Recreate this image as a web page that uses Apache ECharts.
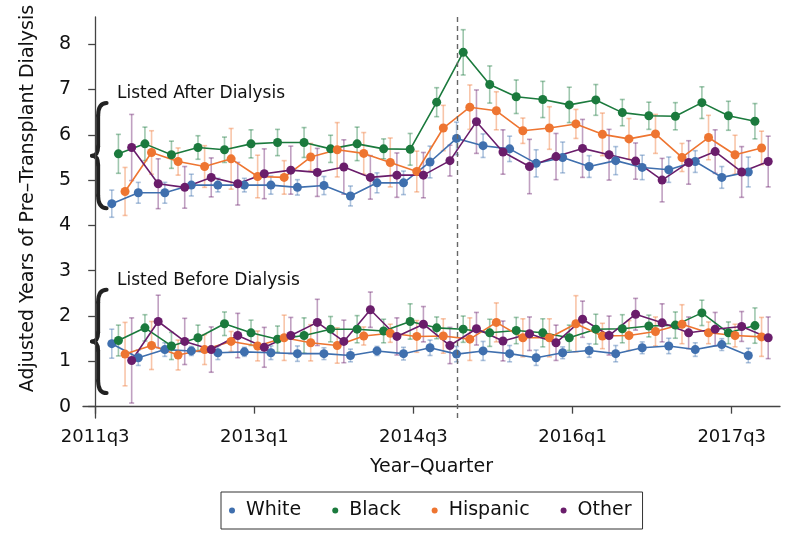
<!DOCTYPE html>
<html><head><meta charset="utf-8">
<script src="https://cdn.jsdelivr.net/npm/echarts@6/dist/echarts.min.js"></script>
<style>html,body{margin:0;padding:0;background:#fff}#c{width:800px;height:556px}</style>
</head><body><div id="c"></div>
<script>
// ---------- DATA ----------
const quarters = ['2011q4','2012q1','2012q2','2012q3','2012q4','2013q1','2013q2','2013q3','2013q4',
  '2014q1','2014q2','2014q3','2014q4','2015q1','2015q2','2015q3','2015q4','2016q1','2016q2','2016q3',
  '2016q4','2017q1','2017q2','2017q3','2017q4'];
const xTickLabels = ['2011q3','2013q1','2014q3','2016q1','2017q3'];
const yTickLabels = [0,1,2,3,4,5,6,7,8];
const races = ['White','Black','Hispanic','Other'];
const policyLineQuarter = 13.66; // quarters after 2011q3 (new allocation policy, Dec 2014)

// Listed after dialysis
const whiteAfter    = [4.48,4.72,4.72,4.89,4.89,4.89,4.89,4.84,4.88,4.65,4.94,4.94,5.40,5.92,5.76,5.69,5.37,5.50,5.30,5.43,5.28,5.23,5.41,5.06,5.18];
const blackAfter    = [5.58,5.80,5.56,5.72,5.67,5.80,5.83,5.83,5.69,5.80,5.69,5.68,6.72,7.82,7.11,6.84,6.78,6.66,6.77,6.49,6.42,6.41,6.71,6.42,6.30];
const hispanicAfter = [4.75,5.61,5.41,5.30,5.47,5.08,5.06,5.51,5.67,5.59,5.39,5.19,6.15,6.61,6.53,6.09,6.15,6.24,6.01,5.91,6.02,5.50,5.94,5.56,5.71];
const otherAfter    = [5.72,4.92,4.84,5.06,4.92,5.14,5.22,5.17,5.29,5.06,5.11,5.11,5.43,6.29,5.62,5.30,5.52,5.70,5.56,5.42,5.00,5.39,5.63,5.18,5.41];
// 95% CI half-widths, listed after dialysis
const whiteAfterErr    = [0.30,0.23,0.23,0.24,0.15,0.15,0.20,0.17,0.20,0.22,0.22,0.26,0.35,0.36,0.26,0.28,0.30,0.34,0.24,0.31,0.27,0.28,0.24,0.24,0.33];
const blackAfterErr    = [0.43,0.37,0.30,0.26,0.28,0.31,0.29,0.33,0.30,0.37,0.22,0.35,0.32,0.50,0.41,0.37,0.40,0.39,0.34,0.29,0.30,0.30,0.35,0.32,0.39];
const hispanicAfterErr = [0.53,0.48,0.30,0.46,0.67,0.47,0.37,0.30,0.60,0.46,0.54,0.45,0.50,0.49,0.42,0.28,0.47,0.32,0.47,0.45,0.43,0.31,0.49,0.43,0.37];
const otherAfterErr    = [0.73,0.55,0.46,0.43,0.47,0.55,0.53,0.53,0.60,0.48,0.49,0.50,0.34,0.70,0.49,0.60,0.51,0.64,0.56,0.40,0.48,0.48,0.48,0.56,0.56];

// Listed before dialysis
const whiteBefore    = [1.39,1.08,1.26,1.23,1.19,1.21,1.19,1.17,1.17,1.13,1.23,1.17,1.30,1.16,1.23,1.17,1.08,1.19,1.24,1.17,1.30,1.34,1.26,1.37,1.13];
const blackBefore    = [1.46,1.74,1.34,1.52,1.83,1.63,1.49,1.57,1.71,1.71,1.67,1.88,1.74,1.71,1.63,1.68,1.63,1.52,1.71,1.72,1.78,1.80,2.07,1.63,1.79];
const hispanicBefore = [1.16,1.35,1.14,1.26,1.44,1.34,1.52,1.41,1.35,1.56,1.62,1.55,1.56,1.49,1.86,1.52,1.52,1.83,1.56,1.57,1.66,1.82,1.63,1.57,1.54];
const otherBefore    = [1.02,1.88,1.44,1.26,1.57,1.31,1.57,1.86,1.44,2.14,1.55,1.82,1.35,1.72,1.45,1.61,1.41,1.93,1.57,2.04,1.85,1.63,1.71,1.77,1.52];
const whiteBeforeErr    = [0.32,0.17,0.15,0.10,0.15,0.10,0.15,0.17,0.13,0.14,0.10,0.14,0.17,0.17,0.21,0.18,0.17,0.13,0.15,0.18,0.13,0.17,0.15,0.13,0.16];
const blackBeforeErr    = [0.34,0.29,0.30,0.28,0.26,0.28,0.29,0.39,0.28,0.30,0.26,0.39,0.24,0.29,0.30,0.29,0.31,0.28,0.33,0.31,0.24,0.29,0.28,0.24,0.39];
const hispanicBeforeErr = [0.70,0.53,0.33,0.33,0.22,0.33,0.50,0.40,0.39,0.20,0.20,0.35,0.38,0.47,0.43,0.42,0.42,0.62,0.28,0.33,0.32,0.43,0.24,0.25,0.43];
const otherBeforeErr    = [0.94,0.58,0.51,0.50,0.49,0.44,0.40,0.51,0.47,0.39,0.41,0.39,0.40,0.36,0.44,0.37,0.39,0.40,0.43,0.35,0.42,0.35,0.37,0.33,0.46];

const groupLabels = ['Listed After Dialysis','Listed Before Dialysis'];

// ---------- BUILD ----------
const colors = {White:'#3f6fae', Black:'#1b7a3d', Hispanic:'#ee7531', Other:'#6a1d6b'};
const FONT = 'DejaVu Sans';
const qIndex = s => (parseInt(s.slice(0,4)) - 2011) * 4 + (parseInt(s.slice(5)) - 3);
const dodge = {White:-0.375, Black:-0.125, Hispanic:0.125, Other:0.375};
const seriesData = {
  White:[whiteAfter, whiteAfterErr, whiteBefore, whiteBeforeErr],
  Black:[blackAfter, blackAfterErr, blackBefore, blackBeforeErr],
  Hispanic:[hispanicAfter, hispanicAfterErr, hispanicBefore, hispanicBeforeErr],
  Other:[otherAfter, otherAfterErr, otherBefore, otherBeforeErr]
};

function errRenderer(color){
  return function(params, api){
    const x = api.value(0), lo = api.value(1), hi = api.value(2);
    const a = api.coord([x, hi]), b = api.coord([x, lo]);
    const cap = 2.5;
    const st = {stroke: color, lineWidth: 1.6, opacity: 0.42};
    return {type:'group', children:[
      {type:'line', shape:{x1:a[0],y1:a[1],x2:b[0],y2:b[1]}, style:st},
      {type:'line', shape:{x1:a[0]-cap,y1:a[1],x2:a[0]+cap,y2:a[1]}, style:st},
      {type:'line', shape:{x1:b[0]-cap,y1:b[1],x2:b[0]+cap,y2:b[1]}, style:st}
    ]};
  };
}

const series = [];
races.forEach(r => {
  const [aV, aE, bV, bE] = seriesData[r];
  [[aV,aE],[bV,bE]].forEach(([vals, errs]) => {
    const pts = quarters.map((q,i) => [qIndex(q) + dodge[r], vals[i]]);
    const ci = quarters.map((q,i) => [qIndex(q) + dodge[r], vals[i]-errs[i], vals[i]+errs[i]]);
    series.push({
      type:'custom', name: r + ' CI', renderItem: errRenderer(colors[r]),
      data: ci, encode:{x:0, y:[1,2]}, z:1, silent:true
    });
    series.push({
      type:'line', name:r, data:pts, symbol:'circle', symbolSize:9,
      itemStyle:{color:colors[r]}, lineStyle:{color:colors[r], width:1.6},
      z:3, animation:false
    });
  });
});
series[1].markLine = {
  silent:true, symbol:'none', label:{show:false},
  lineStyle:{color:'#666', type:[5,4], width:1.4},
  data:[{xAxis: policyLineQuarter}]
};

const axisColor = '#444';
const option = {
  animation:false,
  backgroundColor:'#fff',
  textStyle:{fontFamily:FONT},
  grid:{left:83, right:20, top:17, bottom:138},
  xAxis:{
    type:'value', min:-0.46, max:25.82,
    name:'Year–Quarter', nameLocation:'middle', nameGap:40,
    nameTextStyle:{fontFamily:FONT, fontSize:19, color:'#111'},
    axisLine:{lineStyle:{color:axisColor, width:1.3}},
    axisTick:{customValues: xTickLabels.map(qIndex), length:7, lineStyle:{color:axisColor, width:1.3}},
    axisLabel:{customValues: xTickLabels.map(qIndex), fontFamily:FONT, fontSize:18, color:'#111', margin:10,
      formatter: v => { const f = xTickLabels.find(s => qIndex(s) === Math.round(v)); return f || ''; }},
    splitLine:{show:false}
  },
  yAxis:{
    type:'value', min:-0.25, max:8.6,
    name:'Adjusted Years of Pre–Transplant Dialysis', nameLocation:'middle', nameGap:45,
    nameTextStyle:{fontFamily:FONT, fontSize:19, color:'#111', padding:[0,0,0,38]},
    axisLine:{show:true, lineStyle:{color:axisColor, width:1.3}},
    axisTick:{show:true, customValues: yTickLabels, length:7, lineStyle:{color:axisColor, width:1.3}},
    axisLabel:{customValues: yTickLabels, fontFamily:FONT, fontSize:19, color:'#111', margin:12},
    splitLine:{show:false}
  },
  legend:{
    data:races, left:221, top:492, icon:'circle', itemWidth:6, itemHeight:6, itemGap:31,
    padding:[8,11,8,8], borderColor:'#333', borderWidth:1,
    textStyle:{fontFamily:FONT, fontSize:19, color:'#111', padding:[0,0,0,6], lineHeight:21}
  },
  series
};

const chart = echarts.init(document.getElementById('c'), null, {renderer:'canvas'});
chart.setOption(option);

// ---------- ANNOTATIONS (braces + group labels), placed in data coordinates ----------
const annotations = [
  {label:groupLabels[0], textX:0.82, textY:6.92, braceX:-0.12, braceW:0.55, top:6.70, bottom:4.38},
  {label:groupLabels[1], textX:0.82, textY:2.78, braceX:-0.12, braceW:0.55, top:2.58, bottom:0.30}
];
const graphics = [];
const bstyle = {fill:null, stroke:'#222', lineWidth:4, lineCap:'round'};
annotations.forEach(a => {
  const t = chart.convertToPixel({gridIndex:0}, [a.textX, a.textY]);
  graphics.push({type:'text', x:t[0], y:t[1], style:{text:a.label, fontFamily:FONT, fontSize:17, fill:'#111', verticalAlign:'middle', align:'left'}});
  const p0 = chart.convertToPixel({gridIndex:0}, [a.braceX, a.top]);
  const p1 = chart.convertToPixel({gridIndex:0}, [a.braceX + a.braceW, a.bottom]);
  const x0 = p0[0], xw = p1[0], yT = p0[1], yB = p1[1], yM = (yT+yB)/2, h = yB-yT;
  const xs = x0 + (xw-x0)*0.42;
  const c1 = yT + h*0.12, c2 = yM - h*0.09, c3 = yM + h*0.09, c4 = yB - h*0.12;
  graphics.push({type:'bezierCurve', shape:{x1:xw,y1:yT,x2:xs,y2:c1,cpx1:xs,cpy1:yT}, style:bstyle});
  graphics.push({type:'line', shape:{x1:xs,y1:c1,x2:xs,y2:c2}, style:bstyle});
  graphics.push({type:'bezierCurve', shape:{x1:xs,y1:c2,x2:x0,y2:yM,cpx1:xs,cpy1:yM}, style:bstyle});
  graphics.push({type:'bezierCurve', shape:{x1:x0,y1:yM,x2:xs,y2:c3,cpx1:xs,cpy1:yM}, style:bstyle});
  graphics.push({type:'line', shape:{x1:xs,y1:c3,x2:xs,y2:c4}, style:bstyle});
  graphics.push({type:'bezierCurve', shape:{x1:xs,y1:c4,x2:xw,y2:yB,cpx1:xs,cpy1:yB}, style:bstyle});
});
chart.setOption({graphic: graphics});
</script>
</body></html>
